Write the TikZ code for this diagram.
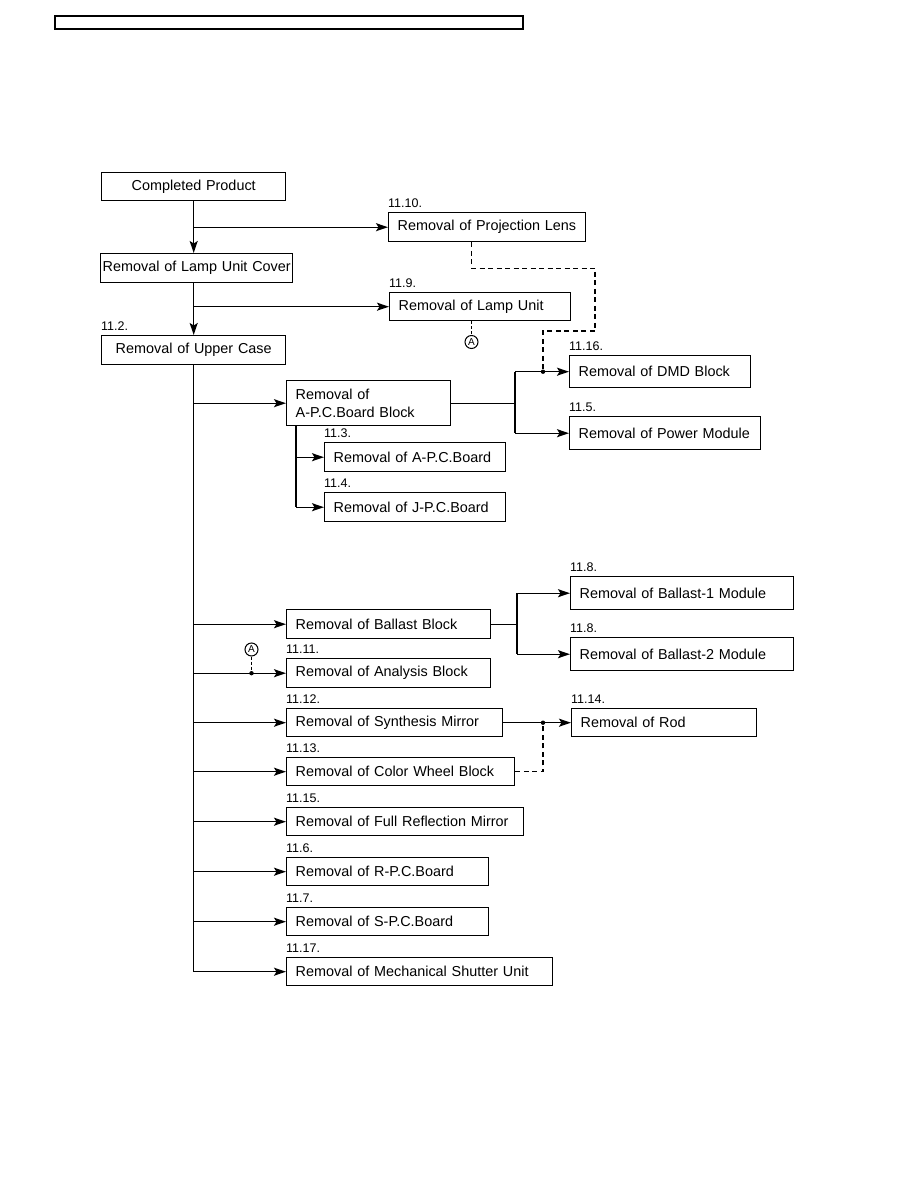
\documentclass[tikz,border=0pt]{standalone}
\usepackage{fontspec}
\setmainfont{Liberation Sans}
\usetikzlibrary{positioning,arrows.meta}
\tikzset{
  stepbox/.style={draw, rectangle, line width=1.4pt, anchor=north west,
                  inner xsep=9pt, inner ysep=0pt, align=left},
  numlabel/.style={anchor=base west, inner sep=0pt, font=\fontsize{12.5pt}{14pt}\selectfont},
  link/.style={line width=1.4pt},
  arrowlink/.style={link, -{Stealth[length=12pt,width=8pt,inset=2.5pt]}},
  dashlink/.style={line width=1.4pt, dash pattern=on 5pt off 3.5pt},
  marker/.style={circle, draw, line width=1pt, inner sep=0pt, minimum size=13pt,
                 font=\fontsize{10pt}{10pt}\selectfont},
}

\begin{document}
\begin{tikzpicture}[x=1pt, y=-1pt, font=\fontsize{14.4pt}{18.5pt}\selectfont]
  \useasboundingbox (0,0) rectangle (918,1188);
  % header bar
  \draw[line width=1.8pt] (55,16) rectangle (523,29);

  % main column
  \node[stepbox, align=center, text width=166pt, minimum height=28pt] (done) at (101,172) {Completed Product};
  \node[stepbox, align=center, inner xsep=1pt, text width=190pt, minimum height=29pt] (cover) at (100,253) {Removal of Lamp Unit Cover};
  \node[stepbox, align=center, text width=166pt, minimum height=29pt] (upper) at (101,335) {Removal of Upper Case};
  \node[stepbox, text width=179pt, minimum height=29pt] (lens) at (388,212) {Removal of Projection Lens};
  \node[stepbox, text width=163pt, minimum height=28pt] (lamp) at (389,292) {Removal of Lamp Unit};

  % A-P.C.Board block group
  \node[stepbox, text width=146pt, minimum height=45pt] (apcb) at (286,380) {Removal of\\A-P.C.Board Block};
  \node[stepbox, text width=163pt, minimum height=32pt] (dmd) at (569,355) {Removal of DMD Block};
  \node[stepbox, text width=173pt, minimum height=33pt] (power) at (569,416) {Removal of Power Module};
  \node[stepbox, text width=163pt, minimum height=29pt] (apc) at (324,442) {Removal of A-P.C.Board};
  \node[stepbox, text width=163pt, minimum height=29pt] (jpc) at (324,492) {Removal of J-P.C.Board};

  % ballast and optics
  \node[stepbox, text width=186pt, minimum height=29pt] (ballast) at (286,609) {Removal of Ballast Block};
  \node[stepbox, text width=205pt, minimum height=33pt] (bal1) at (570,576) {Removal of Ballast-1 Module};
  \node[stepbox, text width=205pt, minimum height=33pt] (bal2) at (570,637) {Removal of Ballast-2 Module};
  \node[stepbox, text width=186pt, minimum height=29pt] (analysis) at (286,658) {Removal of Analysis Block};
  \node[stepbox, text width=198pt, minimum height=28pt] (synth) at (286,708) {Removal of Synthesis Mirror};
  \node[stepbox, text width=167pt, minimum height=28pt] (rod) at (571,708) {Removal of Rod};
  \node[stepbox, text width=210pt, minimum height=28pt] (wheel) at (286,757) {Removal of Color Wheel Block};
  \node[stepbox, text width=219pt, minimum height=28pt] (mirror) at (286,807) {Removal of Full Reflection Mirror};
  \node[stepbox, text width=184pt, minimum height=28pt] (rpc) at (286,857) {Removal of R-P.C.Board};
  \node[stepbox, text width=184pt, minimum height=28pt] (spc) at (286,907) {Removal of S-P.C.Board};
  \node[stepbox, text width=248pt, minimum height=28pt] (mech) at (286,957) {Removal of Mechanical Shutter Unit};

  % section numbers
  \foreach \n/\t in {lens/11.10., lamp/11.9., upper/11.2., dmd/11.16., power/11.5.,
                     apc/11.3., jpc/11.4., bal1/11.8., bal2/11.8., analysis/11.11.,
                     synth/11.12., rod/11.14., wheel/11.13., mirror/11.15.,
                     rpc/11.6., spc/11.7., mech/11.17.}
    \node[numlabel] (num-\n) at ([yshift=5pt]\n.north west) {\t};

  % markers
  \node[marker] (markA1) at (471.5,342) {A};
  \node[marker] (markA2) at (251.5,649.5) {A};

  % helper columns
  \coordinate (apsplit) at (515,0);
  \coordinate (subsplit) at (296,0);
  \coordinate (balsplit) at (517,0);
  \coordinate (rodx) at (543,0);
  \coordinate (dmdx) at (543,0);
  \coordinate (lensx) at (471.5,0);

  % top arrows
  \draw[arrowlink] (done.south) -- (done.south |- cover.north);
  \draw[arrowlink] (done.south |- lens.west) -- (lens.west);
  \draw[arrowlink] (upper.north |- cover.south) -- (upper.north);
  \draw[arrowlink] (upper.north |- lamp.west) -- (lamp.west);

  % trunk
  \draw[link] (upper.south) -- (upper.south |- mech.west);
  \foreach \n in {apcb,ballast,analysis,synth,wheel,mirror,rpc,spc,mech}
    \draw[arrowlink] (upper.south |- \n.west) -- (\n.west);

  % A-P.C.Board block branches
  \draw[link] (apcb.east) -- (apcb.east -| apsplit);
  \draw[link] (apsplit |- dmd.west) -- (apsplit |- power.west);
  \draw[arrowlink] (apsplit |- dmd.west) -- (dmd.west);
  \draw[arrowlink] (apsplit |- power.west) -- (power.west);
  \draw[link] (apcb.south -| subsplit) -- (subsplit |- jpc.west);
  \draw[arrowlink] (subsplit |- apc.west) -- (apc.west);
  \draw[arrowlink] (subsplit |- jpc.west) -- (jpc.west);

  % ballast branches
  \draw[link] (ballast.east) -- (ballast.east -| balsplit);
  \draw[link] (balsplit |- bal1.west) -- (balsplit |- bal2.west);
  \draw[arrowlink] (balsplit |- bal1.west) -- (bal1.west);
  \draw[arrowlink] (balsplit |- bal2.west) -- (bal2.west);

  % rod
  \draw[arrowlink] (synth.east) -- (rod.west);
  \fill (synth.east -| rodx) circle (2.2pt);
  \draw[dashlink] (wheel.east) -| (synth.east -| rodx);

  % dashed links
  \draw[dashlink] (lens.south -| lensx) -- ++(0,26) -| (595,331) -| (dmd.west -| dmdx);
  \fill (dmd.west -| dmdx) circle (2.2pt);
  \draw[dashlink, dash pattern=on 3pt off 2pt] (lamp.south -| markA1) -- (markA1.north);
  \draw[dashlink, dash pattern=on 3pt off 2pt] (markA2.south) -- (markA2.south |- analysis.west);
  \fill (markA2.south |- analysis.west) circle (2.2pt);
\end{tikzpicture}
\end{document}
